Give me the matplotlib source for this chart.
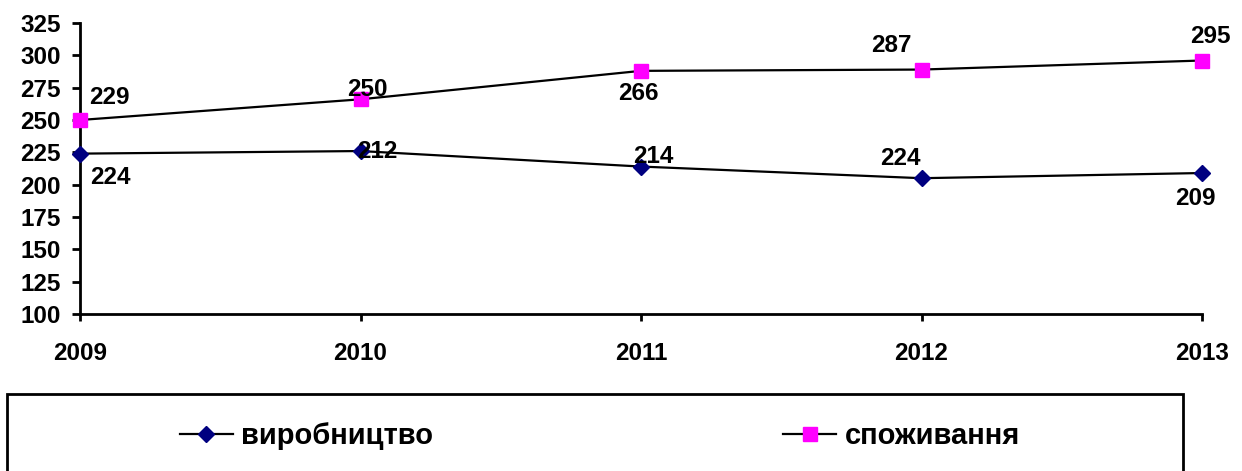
import matplotlib
matplotlib.use("Agg")
import matplotlib.pyplot as plt
from matplotlib.patches import Rectangle

plt.rcParams['font.family'] = ['Liberation Sans', 'DejaVu Sans']
plt.rcParams['font.weight'] = 'bold'

# Data
years = ['2009', '2010', '2011', '2012', '2013']
production = [224, 226, 214, 205, 209]
consumption = [250, 266, 288, 289, 296]
# data labels as printed on the chart
production_labels = ['224', '212', '214', '224', '209']
consumption_labels = ['229', '250', '266', '287', '295']

# label offsets in points (dx, dy)
prod_offsets = [(22, -17), (12, 0), (9, 7), (-15, 14), (-5, -18)]
cons_offsets = [(21, 16), (5, 7), (-2, -16), (-22, 17), (6, 17)]

fig = plt.figure(figsize=(12.42, 4.71), dpi=100)
ax = fig.add_axes([80 / 1242, 1 - 314 / 471, (1202 - 80) / 1242, (314 - 23) / 471])

x = list(range(len(years)))
ax.plot(x, production, color='black', lw=1.6, marker='D', markersize=8.5,
        markerfacecolor='#000080', markeredgecolor='#000080', label='виробництво',
        zorder=3, clip_on=False)
ax.plot(x, consumption, color='black', lw=1.6, marker='s', markersize=9.5,
        markerfacecolor='#FF00FF', markeredgecolor='#FF00FF', label='споживання',
        zorder=3, clip_on=False)

for xi, yi, lab, off in zip(x, production, production_labels, prod_offsets):
    ax.annotate(lab, (xi, yi), xytext=off, textcoords='offset points',
                ha='center', va='center', fontsize=17.5, fontweight='bold', zorder=4)
for xi, yi, lab, off in zip(x, consumption, consumption_labels, cons_offsets):
    ax.annotate(lab, (xi, yi), xytext=off, textcoords='offset points',
                ha='center', va='center', fontsize=17.5, fontweight='bold', zorder=4)

ax.set_xlim(0, 4)
ax.set_ylim(100, 325)
ax.set_yticks(range(100, 326, 25))
ax.set_xticks(x)
ax.set_xticklabels(years)
ax.spines['top'].set_visible(False)
ax.spines['right'].set_visible(False)
ax.spines['left'].set_linewidth(2)
ax.spines['bottom'].set_linewidth(2)
for sp in ('left', 'bottom'):
    ax.spines[sp].set_clip_on(False)
ax.tick_params(axis='y', direction='out', length=6, width=2, pad=8, labelsize=17.5)
ax.tick_params(axis='x', direction='out', length=5, width=2, pad=15, labelsize=17.5)
for t in ax.get_xticklabels() + ax.get_yticklabels():
    t.set_fontweight('bold')

# legend box
fig.patches.append(Rectangle((7 / 1242, -0.05), (1183 - 7) / 1242, 1 - 394 / 471 + 0.05,
                             transform=fig.transFigure, fill=False, edgecolor='black',
                             lw=2, clip_on=False))
leg = fig.legend(loc='center', bbox_to_anchor=(600 / 1242, 1 - 436 / 471), ncol=2,
                 frameon=False, handlelength=1.8, handletextpad=0.3,
                 columnspacing=12, prop={'weight': 'bold', 'size': 21})

fig.savefig('out.png', dpi=100)
